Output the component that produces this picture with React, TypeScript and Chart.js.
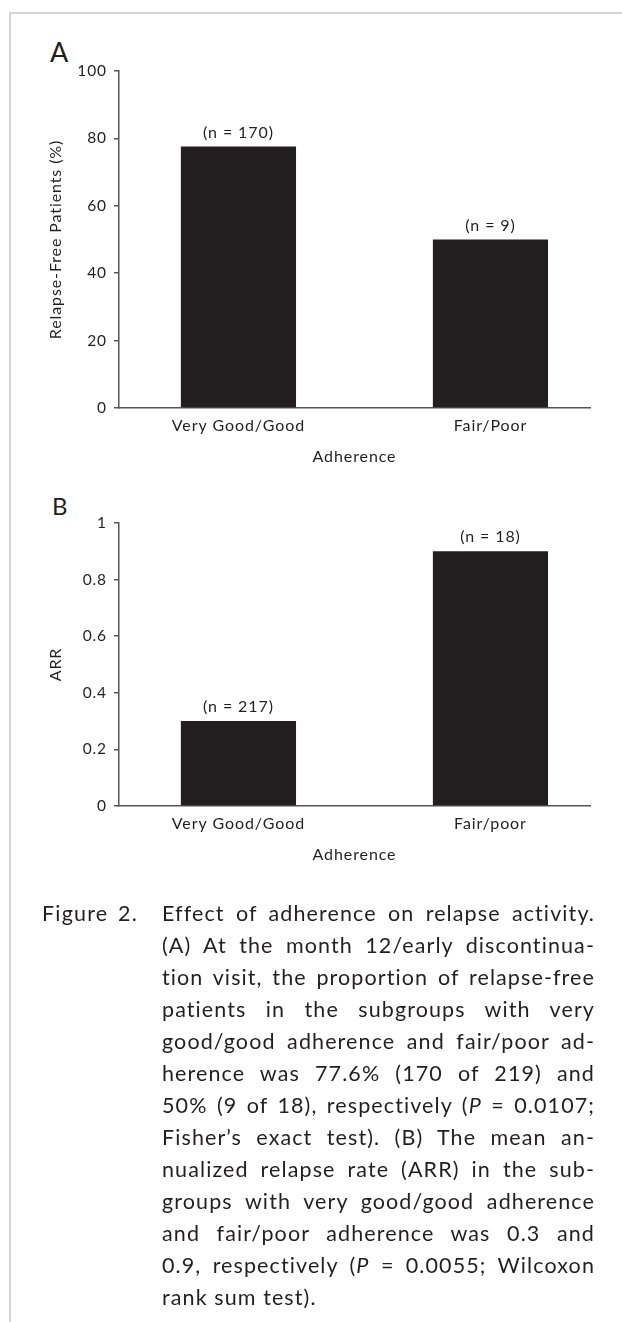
import React, { useEffect, useRef } from 'react';
import { Chart, registerables } from 'chart.js';
Chart.register(...registerables);

// ---- Data ----
const categoriesA = ['Very Good/Good', 'Fair/Poor'];
const relapseFreePct = [77.6, 50];
const nLabelsA = ['(n = 170)', '(n = 9)'];
const yTicksA = [0, 20, 40, 60, 80, 100];

const categoriesB = ['Very Good/Good', 'Fair/poor'];
const arrValues = [0.3, 0.9];
const nLabelsB = ['(n = 217)', '(n = 18)'];
const yTicksB = [0, 0.2, 0.4, 0.6, 0.8, 1];

const FONT = 'Lato';
const INK = '#231f20';
const AXIS = '#555555';
const SPACING = '0.9px';

function makeConfig(
  cats: string[],
  values: number[],
  nLabels: string[],
  yTicks: number[],
  yTitle: string,
  padding: { top: number; right: number; bottom: number; left: number }
): any {
  const spacingPlugin = {
    id: 'letterSpacing',
    beforeUpdate(chart: any) {
      chart.ctx.letterSpacing = SPACING;
    },
    beforeDraw(chart: any) {
      chart.ctx.letterSpacing = SPACING;
    },
  };
  const labelPlugin = {
    id: 'nLabels',
    afterDatasetsDraw(chart: any) {
      const ctx = chart.ctx;
      const meta = chart.getDatasetMeta(0);
      ctx.save();
      ctx.letterSpacing = SPACING;
      ctx.font = `16px ${FONT}`;
      ctx.fillStyle = INK;
      ctx.textAlign = 'center';
      ctx.textBaseline = 'middle';
      meta.data.forEach((el: any, i: number) => {
        ctx.fillText(nLabels[i], el.x, el.y - 14);
      });
      ctx.restore();
    },
  };
  return {
    type: 'bar',
    data: {
      datasets: [
        {
          data: values.map((v, i) => ({ x: i, y: v })),
          backgroundColor: INK,
          borderWidth: 0,
          barPercentage: 0.457,
          categoryPercentage: 1,
        },
      ],
    },
    options: {
      responsive: false,
      animation: false,
      layout: { padding },
      plugins: { legend: { display: false }, tooltip: { enabled: false }, title: { display: false } },
      scales: {
        x: {
          type: 'linear',
          offset: false,
          min: -0.474,
          max: 1.395,
          afterBuildTicks: (s: any) => {
            s.ticks = cats.map((_, i) => ({ value: i }));
          },
          afterFit: (s: any) => {
            s.height = 58;
          },
          ticks: {
            callback: (v: any) => cats[Math.round(Number(v))] ?? '',
            font: { family: FONT, size: 16 },
            color: INK,
            padding: 8,
            maxRotation: 0,
            autoSkip: false,
          },
          grid: { display: true, drawOnChartArea: false, drawTicks: false, color: AXIS },
          border: { display: true, color: AXIS, width: 1.5 },
          title: {
            display: true,
            text: 'Adherence',
            font: { family: FONT, size: 16 },
            color: INK,
            padding: { top: 0, bottom: 0 },
          },
        },
        y: {
          type: 'linear',
          min: yTicks[0],
          max: yTicks[yTicks.length - 1],
          afterBuildTicks: (s: any) => {
            s.ticks = yTicks.map((v) => ({ value: v }));
          },
          afterFit: (s: any) => {
            s.width = 119;
          },
          ticks: {
            callback: (v: any) => String(Number(Number(v).toFixed(2))),
            font: { family: FONT, size: 15.5 },
            color: INK,
            padding: 7,
          },
          grid: { display: true, drawOnChartArea: false, drawTicks: true, tickLength: 5, color: AXIS, lineWidth: 1.5 },
          border: { display: true, color: AXIS, width: 1.5 },
          title: {
            display: true,
            text: yTitle,
            font: { family: FONT, size: 16 },
            color: INK,
            padding: { top: 46, bottom: 0 },
          },
        },
      },
    },
    plugins: [spacingPlugin, labelPlugin],
  };
}

function BarChart(props: {
  cats: string[];
  values: number[];
  nLabels: string[];
  yTicks: number[];
  yTitle: string;
  padding: { top: number; right: number; bottom: number; left: number };
  width: number;
  height: number;
  top: number;
}) {
  const ref = useRef<HTMLCanvasElement | null>(null);
  useEffect(() => {
    if (!ref.current) return;
    const chart = new Chart(
      ref.current,
      makeConfig(props.cats, props.values, props.nLabels, props.yTicks, props.yTitle, props.padding)
    );
    return () => chart.destroy();
  }, []);
  return (
    <canvas
      ref={ref}
      width={props.width}
      height={props.height}
      style={{ position: 'absolute', left: 0, top: props.top, width: props.width, height: props.height, display: 'block' }}
    />
  );
}

const lineStyle: React.CSSProperties = {
  height: 32,
  lineHeight: '32px',
  textAlign: 'justify',
  textAlignLast: 'justify' as any,
  whiteSpace: 'normal',
  overflow: 'hidden',
};

export default function App() {
  const captionLines: React.ReactNode[] = [
    'Effect of adherence on relapse activity.',
    '(A) At the month 12/early discontinua-',
    <>tion visit, the proportion of <span style={{ whiteSpace: 'nowrap' }}>relapse-free</span></>,
    'patients in the subgroups with very',
    'good/good adherence and fair/poor ad-',
    'herence was 77.6% (170 of 219) and',
    <>50% (9 of 18), respectively (<i>P</i> = 0.0107;</>,
    'Fisher\u2019s exact test). (B) The mean an-',
    'nualized relapse rate (ARR) in the sub-',
    'groups with very good/good adherence',
    'and fair/poor adherence was 0.3 and',
    <>0.9, respectively (<i>P</i> = 0.0055; Wilcoxon</>,
  ];
  return (
    <div
      style={{
        position: 'absolute',
        left: 0,
        top: 0,
        width: 622,
        height: 1322,
        overflow: 'hidden',
        fontFamily: FONT,
        color: INK,
        background: '#ffffff',
      }}
    >
      <div
        style={{
          position: 'absolute',
          left: 9,
          top: 12,
          right: 0,
          bottom: 0,
          borderTop: '2px solid #d4d4d4',
          borderLeft: '2px solid #d4d4d4',
        }}
      />
      <div style={{ position: 'absolute', left: 50, top: 38, fontSize: 27, lineHeight: '27px' }}>A</div>
      <div style={{ position: 'absolute', left: 52, top: 494, fontSize: 24, lineHeight: '24px' }}>B</div>
      <BarChart
        cats={categoriesA}
        values={relapseFreePct}
        nLabels={nLabelsA}
        yTicks={yTicksA}
        yTitle="Relapse-Free Patients (%)"
        padding={{ top: 51, right: 32, bottom: 14, left: 0 }}
        width={622}
        height={460}
        top={20}
      />
      <BarChart
        cats={categoriesB}
        values={arrValues}
        nLabels={nLabelsB}
        yTicks={yTicksB}
        yTitle="ARR"
        padding={{ top: 43, right: 32, bottom: 36, left: 0 }}
        width={622}
        height={420}
        top={480}
      />
      <div
        style={{
          position: 'absolute',
          left: 42,
          top: 897,
          fontSize: 21.5,
          lineHeight: '32px',
          letterSpacing: '1.2px',
          wordSpacing: '3px',
        }}
      >
        Figure 2.
      </div>
      <div
        style={{ position: 'absolute', left: 162, top: 897, width: 433, fontSize: 21.5, letterSpacing: '1.1px' }}
      >
        {captionLines.map((l, i) => (
          <div key={i} style={lineStyle}>
            {l}
          </div>
        ))}
        <div style={{ height: 32, lineHeight: '32px' }}>rank sum test).</div>
      </div>
    </div>
  );
}
